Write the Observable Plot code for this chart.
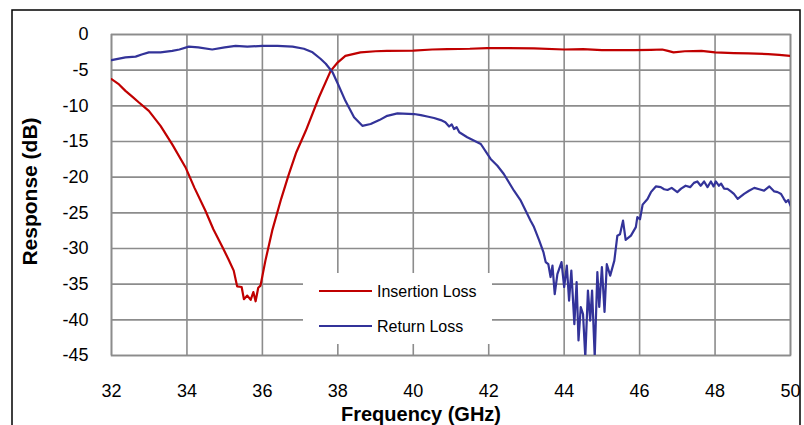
<!DOCTYPE html>
<html>
<head>
<meta charset="utf-8">
<script src="https://cdn.jsdelivr.net/npm/d3@7"></script>
<script src="https://cdn.jsdelivr.net/npm/@observablehq/plot@0.6"></script>
<style>
  html, body { margin: 0; padding: 0; background: #fff; }
  #chart { width: 804px; height: 425px; overflow: hidden; }
  svg { font-family: "Liberation Sans", Arial, sans-serif; }
</style>
</head>
<body>
<div id="chart"></div>
<script>
// ---- Data ----
const seriesNames = ["Insertion Loss", "Return Loss"];
const seriesColors = ["#c00000", "#333399"];

const xTicks = [32, 34, 36, 38, 40, 42, 44, 46, 48, 50];
const yTicks = [0, -5, -10, -15, -20, -25, -30, -35, -40, -45];

const ilFreq = [32.0, 32.2, 32.37, 32.55, 32.72, 32.99, 33.3, 33.61, 33.96, 34.2, 34.49, 34.7, 34.94, 35.1, 35.24, 35.33, 35.45, 35.51, 35.6, 35.69, 35.76, 35.82, 35.89, 35.95, 36.08, 36.26, 36.5, 36.7, 36.9, 37.15, 37.5, 37.81, 38.0, 38.2, 38.6, 39.0, 39.3, 40.0, 40.5, 40.9, 41.5, 41.96, 42.5, 43.2, 44.0, 44.5, 45.0, 45.87, 46.3, 46.6, 46.75, 46.9, 47.2, 47.64, 48.0, 48.5, 48.88, 49.41, 49.7, 50.0];
const ilDb = [-6.25, -7.0, -7.9, -8.7, -9.5, -10.7, -12.8, -15.4, -18.6, -21.5, -24.7, -27.3, -29.8, -31.5, -33.1, -35.3, -35.4, -37.1, -36.6, -37.2, -36.1, -37.4, -35.5, -35.2, -31.7, -27.5, -23.0, -19.6, -16.5, -13.5, -8.8, -5.1, -3.9, -3.0, -2.5, -2.35, -2.3, -2.25, -2.1, -2.05, -2.0, -1.9, -1.9, -1.95, -2.1, -2.05, -2.2, -2.2, -2.15, -2.1, -2.3, -2.5, -2.35, -2.3, -2.5, -2.6, -2.65, -2.75, -2.85, -3.0];

const rlFreq = [32.0, 32.37, 32.64, 32.8, 32.99, 33.3, 33.61, 33.8, 34.05, 34.3, 34.67, 35.0, 35.29, 35.6, 36.0, 36.4, 36.8, 37.1, 37.33, 37.54, 37.68, 37.86, 38.0, 38.2, 38.43, 38.65, 38.87, 39.1, 39.31, 39.58, 40.02, 40.2, 40.37, 40.55, 40.73, 40.85, 40.95, 41.02, 41.08, 41.15, 41.22, 41.43, 41.79, 42.05, 42.23, 42.4, 42.67, 42.85, 43.11, 43.2, 43.34, 43.45, 43.51, 43.58, 43.64, 43.69, 43.75, 43.82, 43.93, 44.0, 44.07, 44.13, 44.19, 44.27, 44.33, 44.38, 44.44, 44.5, 44.56, 44.63, 44.69, 44.74, 44.81, 44.88, 44.93, 45.0, 45.07, 45.13, 45.22, 45.33, 45.41, 45.48, 45.56, 45.63, 45.77, 45.9, 45.94, 46.01, 46.08, 46.21, 46.3, 46.43, 46.56, 46.65, 46.74, 46.85, 47.0, 47.1, 47.22, 47.34, 47.44, 47.53, 47.62, 47.71, 47.8, 47.89, 47.96, 48.02, 48.1, 48.16, 48.24, 48.33, 48.42, 48.5, 48.6, 48.77, 48.9, 49.04, 49.17, 49.3, 49.44, 49.57, 49.66, 49.75, 49.82, 49.88, 49.94, 50.0];
const rlDb = [-3.6, -3.2, -3.1, -2.8, -2.5, -2.5, -2.3, -2.1, -1.7, -1.8, -2.1, -1.8, -1.6, -1.7, -1.6, -1.6, -1.7, -2.0, -2.5, -3.4, -4.1, -5.3, -6.9, -9.3, -11.6, -12.8, -12.55, -12.0, -11.4, -11.05, -11.15, -11.3, -11.5, -11.7, -12.0, -12.3, -12.9, -12.6, -13.25, -13.0, -13.7, -14.4, -15.35, -17.45, -18.4, -19.55, -21.9, -23.3, -26.1, -27.0, -28.9, -30.5, -31.9, -32.2, -34.0, -32.4, -36.4, -33.6, -31.9, -35.4, -32.4, -37.3, -33.1, -40.6, -34.7, -42.9, -38.2, -39.2, -45.2, -35.9, -40.1, -35.9, -45.2, -33.3, -38.2, -32.6, -38.9, -32.2, -33.8, -31.7, -28.2, -28.0, -26.1, -28.8, -28.2, -27.0, -25.6, -25.9, -23.85, -23.05, -22.1, -21.3, -21.4, -21.7, -21.8, -21.5, -22.1, -21.6, -21.2, -21.4, -20.8, -20.6, -21.2, -20.6, -21.4, -20.6, -21.3, -20.6, -21.2, -20.9, -21.6, -21.65, -22.0, -22.35, -23.05, -22.35, -21.9, -21.5, -21.7, -21.9, -21.3, -22.0, -22.1, -22.35, -23.0, -23.5, -23.2, -24.0];

const ilData = ilFreq.map((f, i) => ({f, v: ilDb[i]}));
const rlData = rlFreq.map((f, i) => ({f, v: rlDb[i]}));

const gridColor = "#8c8c8c";
const fmt = d => String(d);

const chart = Plot.plot({
  width: 804,
  height: 425,
  marginLeft: 111,
  marginRight: 14,
  marginTop: 34,
  marginBottom: 70,
  style: {fontFamily: "Liberation Sans, Arial, sans-serif", fontSize: "18px", color: "#000", background: "#fff"},
  x: {domain: [32, 50], ticks: xTicks, tickSize: 0, tickPadding: 29, label: null, tickFormat: fmt},
  y: {domain: [-45, 0], ticks: yTicks, tickSize: 0, tickPadding: 23, label: null, tickFormat: fmt},
  marks: [
    Plot.gridX(xTicks, {stroke: gridColor, strokeOpacity: 1, strokeWidth: 1.6}),
    Plot.gridY(yTicks, {stroke: gridColor, strokeOpacity: 1, strokeWidth: 1.6}),
    Plot.frame({stroke: gridColor, strokeWidth: 1.6}),
    Plot.line(ilData, {x: "f", y: "v", stroke: seriesColors[0], strokeWidth: 2.2, clip: true}),
    Plot.line(rlData, {x: "f", y: "v", stroke: seriesColors[1], strokeWidth: 2.2, clip: true}),
    Plot.axisX({ticks: xTicks, tickSize: 0, tickPadding: 29, fontSize: 18, label: null, tickFormat: fmt}),
    Plot.axisY({ticks: yTicks, tickSize: 0, tickPadding: 23, fontSize: 18, label: null, tickFormat: fmt})
  ]
});

document.getElementById("chart").appendChild(chart);

const svg = d3.select(chart);
// Legend box (white, hiding grid)
const lg = svg.append("g");
lg.append("rect").attr("x", 303).attr("y", 273).attr("width", 189).attr("height", 71).attr("fill", "#fff");
seriesNames.forEach((name, i) => {
  const yy = 291 + i * 35;
  lg.append("line").attr("x1", 319).attr("x2", 372).attr("y1", yy).attr("y2", yy)
    .attr("stroke", seriesColors[i]).attr("stroke-width", 2.2);
  lg.append("text").attr("x", 377).attr("y", yy).attr("dy", "0.35em").attr("text-anchor", "start")
    .attr("font-size", 16).attr("fill", "#000").text(name);
});
// Axis titles
svg.append("text").attr("x", 421).attr("y", 420.5).attr("text-anchor", "middle")
  .attr("font-size", 20).attr("font-weight", "bold").attr("fill", "#000").text("Frequency (GHz)");
svg.append("text").attr("transform", "translate(37,191.5) rotate(-90)").attr("text-anchor", "middle")
  .attr("font-size", 21).attr("font-weight", "bold").attr("fill", "#000").text("Response (dB)");
// Outer chart border
svg.append("rect").attr("x", 12).attr("y", 10).attr("width", 788).attr("height", 440)
  .attr("fill", "none").attr("stroke", "#000").attr("stroke-width", 1.5);
</script>
</body>
</html>
